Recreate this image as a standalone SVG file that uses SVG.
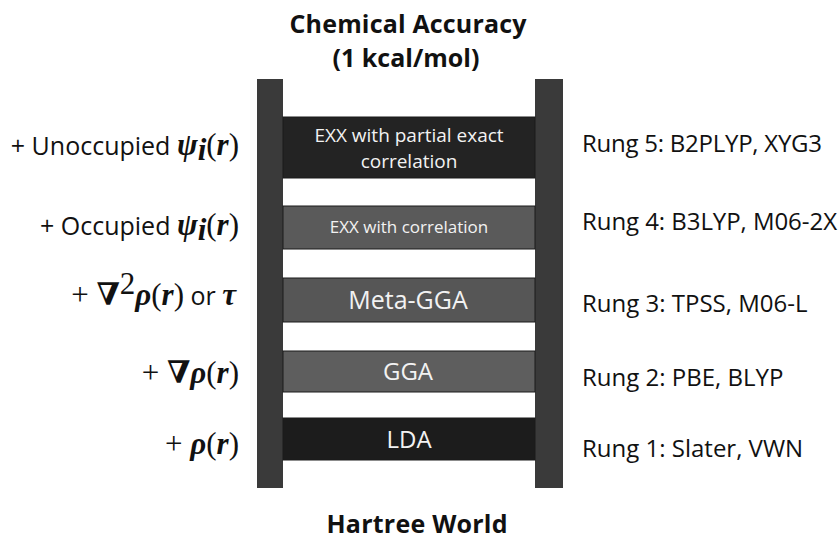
<svg xmlns="http://www.w3.org/2000/svg" width="839" height="546" viewBox="0 0 839 546">
  <style>
    .title { font-family: "Open Sans", "Liberation Sans", sans-serif; font-weight: bold; font-size: 25px; fill: #111; text-anchor: middle; }
    .side { font-family: "Open Sans", "Liberation Sans", sans-serif; font-size: 24px; fill: #111; }
    .lab { font-family: "Open Sans", "Liberation Sans", sans-serif; font-size: 25px; fill: #111; text-anchor: end; }
    .m { font-family: "Liberation Serif", "DejaVu Serif", serif; font-weight: bold; font-style: italic; font-size: 31px; }
    .mu { font-family: "Liberation Serif", "DejaVu Serif", serif; font-size: 31px; }
    .rail { fill: #3a3a3a; }
    .rung { stroke: #1a1a1a; stroke-width: 1; }
    .rt { font-family: "Open Sans", "Liberation Sans", sans-serif; fill: #f2f2f2; text-anchor: middle; }
  </style>

  <!-- headings -->
  <text class="title" x="408" y="33" textLength="237">Chemical Accuracy</text>
  <text class="title" x="406" y="67">(1 kcal/mol)</text>
  <text class="title" x="417" y="533" textLength="181">Hartree World</text>

  <!-- ladder rails -->
  <g id="rails">
    <rect class="rail" x="257" y="79" width="26" height="409"/>
    <rect class="rail" x="535" y="79" width="28" height="409"/>
  </g>

  <!-- rungs -->
  <g id="rung5">
    <rect class="rung" x="283" y="117" width="252" height="61" fill="#232323"/>
    <text class="rt" x="409" y="142" font-size="19">EXX with partial exact</text>
    <text class="rt" x="409" y="168" font-size="19">correlation</text>
  </g>
  <g id="rung4">
    <rect class="rung" x="283" y="206" width="252" height="43" fill="#5a5a5a"/>
    <text class="rt" x="409" y="233" font-size="17">EXX with correlation</text>
  </g>
  <g id="rung3">
    <rect class="rung" x="283" y="278" width="252" height="44" fill="#565656"/>
    <text class="rt" x="408" y="309" font-size="25">Meta-GGA</text>
  </g>
  <g id="rung2">
    <rect class="rung" x="283" y="351" width="252" height="41" fill="#5e5e5e"/>
    <text class="rt" x="408" y="380" font-size="24">GGA</text>
  </g>
  <g id="rung1">
    <rect class="rung" x="283" y="418" width="252" height="42" fill="#1c1c1c"/>
    <text class="rt" x="409" y="448" font-size="24">LDA</text>
  </g>

  <!-- ingredients on the left -->
  <g id="ingredients">
    <text class="lab" x="239" y="155">+ Unoccupied <tspan class="m">ψ</tspan><tspan class="m" font-size="22" dy="5">i</tspan><tspan class="mu" dy="-5">(</tspan><tspan class="m">r</tspan><tspan class="mu">)</tspan></text>
    <text class="lab" x="239" y="235">+ Occupied <tspan class="m">ψ</tspan><tspan class="m" font-size="22" dy="5">i</tspan><tspan class="mu" dy="-5">(</tspan><tspan class="m">r</tspan><tspan class="mu">)</tspan></text>
    <text class="lab" x="236" y="305"><tspan class="mu">+ </tspan><tspan class="m">∇</tspan><tspan class="mu" font-size="20" dy="-11">2</tspan><tspan class="m" dy="11">ρ</tspan><tspan class="mu">(</tspan><tspan class="m">r</tspan><tspan class="mu">)</tspan> or <tspan class="m">τ</tspan></text>
    <text class="lab" x="239" y="383"><tspan class="mu">+ </tspan><tspan class="m">∇ρ</tspan><tspan class="mu">(</tspan><tspan class="m">r</tspan><tspan class="mu">)</tspan></text>
    <text class="lab" x="239" y="454"><tspan class="mu">+ </tspan><tspan class="m">ρ</tspan><tspan class="mu">(</tspan><tspan class="m">r</tspan><tspan class="mu">)</tspan></text>
  </g>

  <!-- example functionals on the right -->
  <g id="examples">
    <text class="side" x="582" y="152" textLength="240">Rung 5: B2PLYP, XYG3</text>
    <text class="side" x="582" y="230" textLength="255">Rung 4: B3LYP, M06-2X</text>
    <text class="side" x="582" y="312">Rung 3: TPSS, M06-L</text>
    <text class="side" x="582" y="386">Rung 2: PBE, BLYP</text>
    <text class="side" x="582" y="457">Rung 1: Slater, VWN</text>
  </g>
</svg>
